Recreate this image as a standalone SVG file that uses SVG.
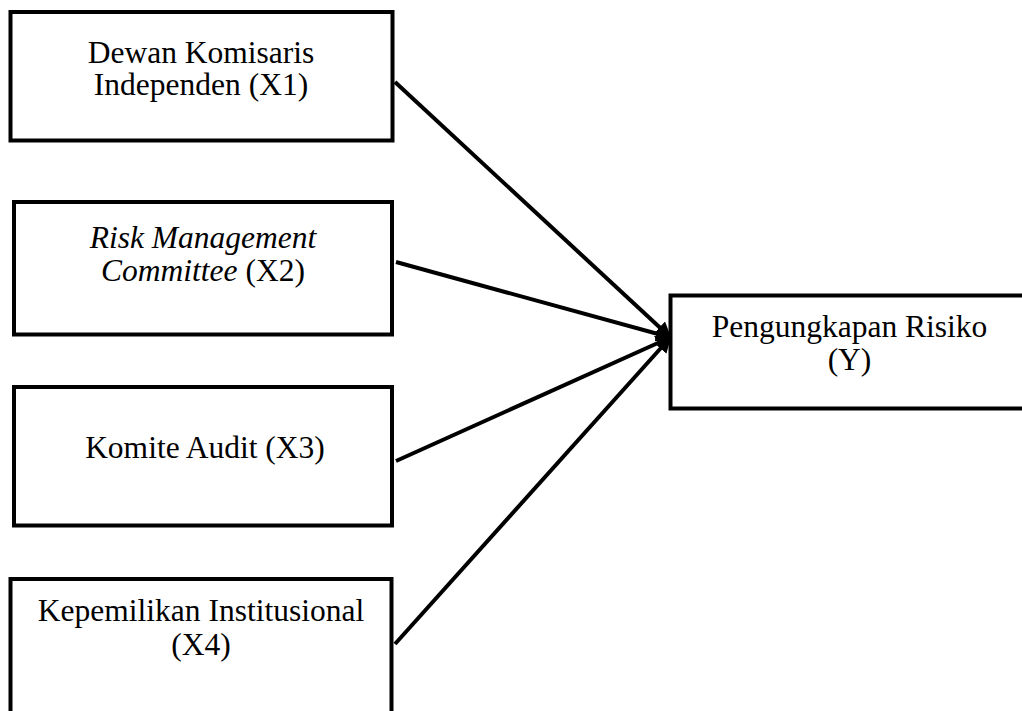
<svg xmlns="http://www.w3.org/2000/svg" width="1022" height="711" viewBox="0 0 1022 711">
<defs>
<style>
.box{fill:#fff;stroke:#000;stroke-width:4}
.t{font-family:"Liberation Serif","Times New Roman",serif;font-size:31.5px;fill:#000;text-anchor:middle}
.i{font-style:italic}
.c{stroke:#000;stroke-width:4;fill:none;marker-end:url(#ah)}
</style>
<marker id="ah" markerWidth="4" markerHeight="4" refX="3.2" refY="2" orient="auto" markerUnits="strokeWidth">
<path d="M0,0 L4,2 L0,4 z" fill="#000"/>
</marker>
</defs>
<rect width="1022" height="711" fill="#fff"/>
<g id="connectors">
<line class="c" x1="395" y1="82" x2="669" y2="336"/>
<line class="c" x1="396" y1="262" x2="669" y2="337"/>
<line class="c" x1="396" y1="461" x2="669" y2="338"/>
<line class="c" x1="395" y1="644" x2="669" y2="339"/>
</g>
<g id="x1">
<rect class="box" x="10.5" y="12" width="382" height="128.5"/>
<text class="t" x="201" y="63">Dewan Komisaris</text>
<text class="t" x="201" y="95">Independen (X1)</text>
</g>
<g id="x2">
<rect class="box" x="14" y="202" width="378" height="132.5"/>
<text class="t i" x="203" y="248">Risk Management</text>
<text class="t" x="203" y="281"><tspan class="i">Committee</tspan> (X2)</text>
</g>
<g id="x3">
<rect class="box" x="14" y="387" width="378" height="138.5"/>
<text class="t" x="205" y="458">Komite Audit (X3)</text>
</g>
<g id="x4">
<rect class="box" x="10.5" y="579" width="381" height="140"/>
<text class="t" x="201" y="621">Kepemilikan Institusional</text>
<text class="t" x="201" y="655">(X4)</text>
</g>
<g id="y">
<rect class="box" x="670.5" y="295.5" width="360" height="113"/>
<text class="t" x="849.5" y="337">Pengungkapan Risiko</text>
<text class="t" x="849.5" y="370">(Y)</text>
</g>
</svg>
